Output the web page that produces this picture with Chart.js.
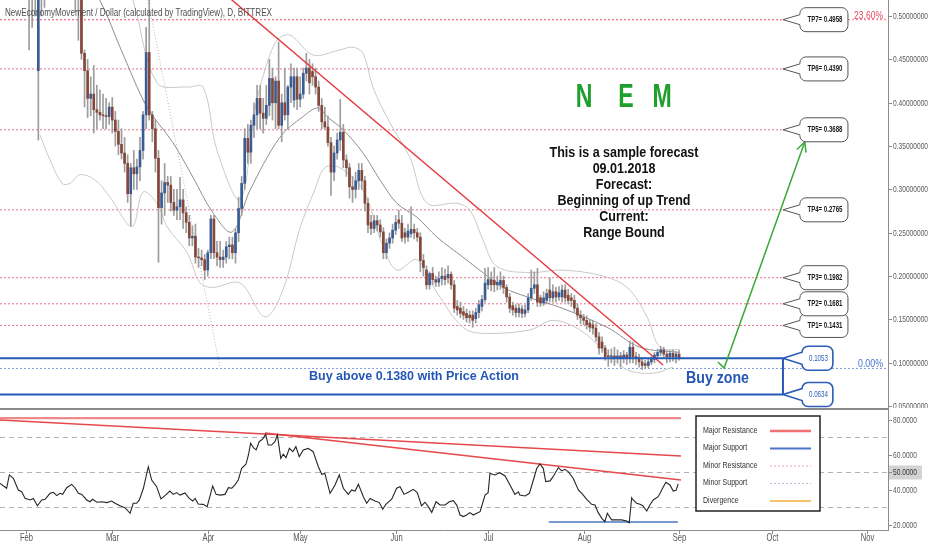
<!DOCTYPE html>
<html><head><meta charset="utf-8">
<script src="https://cdn.jsdelivr.net/npm/chart.js@4.4.1/dist/chart.umd.min.js"></script>
<style>
html,body{margin:0;padding:0;background:#fff;}
#wrap{position:relative;width:932px;height:550px;overflow:hidden;background:#fff;}
#priceChart{position:absolute;left:0;top:0;}
#rsiChart{position:absolute;left:0;top:408px;}
</style></head><body>
<div id="wrap">
<canvas id="priceChart" width="932" height="408"></canvas>
<canvas id="rsiChart" width="932" height="142"></canvas>
</div>
<script>
// ---------- DATA ----------
const title = 'NewEconomyMovement / Dollar (calculated by TradingView), D, BITTREX';
const startDay = 22; // day-of-year index of first candle (Jan 1 = 0) -> Jan 23, 2018
const openP = [
.62,.60,.63,.60,.58,.60,.57,.58,.56,.57,
.55,.53,.535,.437,.55,.60,.62,.65,.63,.66,
.64,.61,.63,.60,.61,.545,.53,.535,.457,.437,
.405,.41,.392,.389,.386,.385,.384,.395,.38,.367,
.352,.342,.33,.295,.325,.318,.326,.345,.386,.458,
.386,.37,.336,.279,.296,.308,.305,.285,.276,.28,
.288,.273,.262,.244,.246,.222,.221,.219,.207,.227,
.266,.227,.222,.219,.222,.234,.236,.227,.25,.278,
.307,.359,.343,.374,.386,.405,.388,.382,.397,.428,
.40,.425,.374,.40,.386,.418,.403,.43,.404,.41,
.434,.44,.436,.43,.418,.397,.378,.372,.354,.32,
.342,.357,.366,.334,.325,.303,.30,.31,.322,.31,
.284,.262,.255,.264,.259,.251,.227,.238,.244,.253,
.265,.261,.25,.245,.249,.254,.25,.245,.218,.207,
.19,.203,.196,.193,.197,.20,.198,.202,.19,.165,
.163,.159,.157,.155,.155,.151,.158,.165,.173,.19,
.196,.195,.19,.19,.195,.187,.176,.166,.163,.158,
.162,.157,.161,.175,.186,.19,.175,.169,.172,.184,
.175,.182,.176,.176,.184,.178,.175,.172,.163,.155,
.152,.149,.146,.144,.14,.13,.124,.117,.108,.107,
.108,.106,.108,.106,.109,.105,.118,.107,.106,.101,
.099,.097,.101,.104,.108,.112,.115,.11,.107,.111,
.107,.11];
const highP = [
.66,.64,.66,.63,.62,.63,.60,.61,.59,.60,
.58,.56,.55,.57,.62,.64,.68,.69,.70,.69,
.66,.65,.64,.63,.62,.56,.55,.55,.461,.45,
.43,.443,.42,.415,.41,.405,.40,.406,.39,.38,
.37,.36,.34,.33,.345,.335,.36,.39,.487,.54,
.39,.38,.345,.31,.33,.315,.315,.30,.30,.314,
.30,.28,.27,.258,.26,.232,.23,.225,.23,.27,
.27,.24,.24,.23,.24,.245,.245,.255,.291,.315,
.37,.375,.38,.40,.42,.42,.405,.42,.45,.44,
.43,.47,.41,.44,.42,.445,.44,.44,.43,.44,
.457,.45,.445,.44,.425,.405,.395,.385,.36,.35,
.365,.404,.375,.34,.33,.315,.32,.33,.33,.315,
.29,.27,.27,.27,.265,.256,.243,.25,.26,.27,
.276,.27,.255,.26,.28,.26,.255,.25,.225,.212,
.205,.21,.20,.205,.21,.208,.212,.205,.195,.172,
.17,.165,.162,.16,.16,.163,.172,.178,.209,.21,
.205,.21,.20,.205,.20,.19,.18,.17,.167,.168,
.166,.167,.18,.207,.205,.209,.178,.182,.185,.198,
.19,.187,.188,.19,.19,.185,.18,.178,.168,.16,
.156,.154,.15,.148,.145,.135,.13,.12,.115,.116,
.118,.115,.112,.114,.112,.125,.124,.112,.11,.106,
.103,.105,.107,.112,.116,.119,.118,.114,.114,.115,
.113,.114];
const lowP = [
.58,.57,.59,.56,.55,.56,.54,.545,.535,.53,
.461,.487,.50,.357,.50,.51,.60,.61,.61,.62,
.59,.58,.57,.57,.53,.505,.472,.45,.395,.383,
.385,.365,.37,.38,.37,.37,.375,.365,.35,.34,
.335,.32,.285,.258,.30,.30,.31,.335,.37,.38,
.355,.32,.216,.26,.27,.285,.275,.27,.265,.265,
.255,.25,.235,.235,.215,.21,.212,.196,.20,.22,
.22,.212,.21,.21,.215,.22,.22,.215,.24,.27,
.30,.33,.33,.36,.37,.37,.365,.375,.385,.38,
.37,.37,.355,.38,.37,.40,.395,.392,.395,.405,
.425,.41,.42,.41,.39,.37,.37,.35,.293,.31,
.335,.345,.325,.315,.29,.285,.29,.30,.30,.275,
.25,.248,.25,.252,.245,.22,.22,.232,.238,.248,
.255,.24,.238,.24,.245,.243,.24,.205,.20,.185,
.185,.19,.188,.188,.19,.19,.192,.185,.158,.155,
.152,.15,.147,.146,.141,.146,.152,.16,.17,.185,
.183,.182,.184,.185,.18,.17,.158,.155,.153,.153,
.152,.153,.158,.172,.18,.165,.165,.166,.168,.17,
.17,.17,.172,.17,.17,.168,.165,.158,.15,.145,
.144,.139,.136,.133,.125,.11,.112,.103,.096,.10,
.097,.10,.095,.10,.098,.10,.10,.098,.095,.092,
.093,.094,.098,.10,.105,.108,.107,.10,.101,.102,
.10,.103];
const closeP = [
.60,.63,.60,.58,.60,.57,.58,.56,.57,.55,
.53,.535,.53,.55,.60,.62,.65,.63,.66,.64,
.61,.63,.60,.61,.545,.53,.535,.457,.437,.405,
.41,.392,.389,.386,.385,.384,.395,.38,.367,.352,
.342,.33,.295,.325,.318,.326,.345,.386,.458,.386,
.37,.336,.279,.296,.308,.305,.285,.276,.28,.288,
.273,.262,.244,.246,.222,.221,.219,.207,.227,.266,
.227,.222,.219,.222,.234,.236,.227,.25,.278,.307,
.359,.343,.374,.386,.405,.388,.382,.397,.428,.40,
.425,.374,.40,.386,.418,.43,.43,.404,.41,.434,
.44,.423,.43,.418,.397,.378,.372,.354,.32,.342,
.357,.366,.334,.325,.303,.30,.31,.322,.31,.284,
.259,.255,.264,.259,.251,.227,.238,.244,.253,.262,
.261,.244,.245,.252,.254,.25,.245,.218,.21,.19,
.203,.196,.193,.197,.20,.196,.202,.19,.163,.161,
.157,.155,.152,.152,.149,.158,.167,.173,.192,.196,
.19,.19,.193,.195,.187,.176,.163,.161,.158,.163,
.157,.161,.175,.186,.19,.17,.169,.175,.18,.175,
.182,.176,.181,.184,.175,.172,.172,.163,.155,.152,
.149,.144,.141,.14,.13,.117,.117,.107,.107,.108,
.106,.108,.106,.109,.105,.118,.107,.106,.101,.097,
.097,.101,.104,.109,.112,.115,.11,.107,.111,.107,
.11,.106];

// Bollinger-type overlay lines (day index, price)
const bbMidDays = [42,48.5,55,62,70.3,78.7,85.2,91.7,97.9,103.7,113.4,120.9,125.8,128.7,133.9,140.4,145.9,151.4,157.9,164.4,172.8,179.3,185.8,194.6,204.3,219.6,230.3,243];
const bbMid = [.59,.55,.518,.46,.395,.354,.314,.273,.251,.299,.360,.384,.394,.384,.369,.342,.311,.284,.268,.245,.222,.204,.187,.175,.164,.141,.118,.112];
const bbUpDays = [55,61.5,65.7,73.5,83.3,88.5,93,100.5,105.3,108.6,112.5,116.7,124.2,132.9,137.1,140.4,143.6,149.1,155.6,161.2,170.9,175.1,179.3,183.9,194.6,204.3,217.3,226.1,232.6,236.8,243.3];
const bbUp = [.62,.553,.5185,.423,.418,.418,.345,.288,.392,.438,.472,.478,.455,.461,.464,.457,.418,.377,.337,.284,.284,.276,.242,.211,.204,.207,.201,.187,.153,.118,.115];
const bbLoDays = [35.5,38.8,42.7,45.3,48.5,53.4,58.3,65.4,69,73.5,76.8,83.3,87.5,91.7,100.5,108.6,114.4,119.9,124.8,128,132.9,140.4,146.9,151.4,157.9,164.4,172.8,179.3,194.6,202,210.8,219.6,226.1,234.5,241];
const bbLo = [.363,.334,.307,.307,.317,.311,.291,.257,.297,.284,.257,.227,.192,.187,.192,.153,.184,.255,.30,.325,.325,.299,.234,.207,.219,.181,.141,.134,.138,.149,.138,.111,.092,.088,.095];
const dottedDays = [70.6, 94];
const dottedVals = [0.5185, 0.094];

// drawing annotations in data units
const tpNames = ['TP1','TP2','TP3','TP4','TP5','TP6','TP7'];
const tpValues = [0.1431,0.1681,0.1982,0.2765,0.3688,0.4390,0.4958];
const buyZone = [0.1053, 0.0634];
const fibLevels = [0.4958, 0.0935];
const fibLabels = ['23.60%', '0.00%'];
const trendDays = [87.5, 237.8];
const trendVals = [0.5496, 0.0975];
const arrowDays = [255.6, 257.6, 283.8];
const arrowVals = [0.101, 0.094, 0.355];
const forecastLines = ['This is a sample forecast','09.01.2018','Forecast:','Beginning of up Trend','Current:','Range Bound'];
const nemLetters = ['N','E','M'];
const buyText = 'Buy above 0.1380 with Price Action';
const buyZoneText = 'Buy zone';
const priceTicks = [0.05,0.10,0.15,0.20,0.25,0.30,0.35,0.40,0.45,0.50];

// RSI pane
const rsiDays = [22.6,24.7,25.6,26.9,28.5,29.6,30.7,32.3,33.4,34.7,36.1,37.2,38.8,39.9,41.0,42.0,42.9,44.2,45.8,46.9,48.0,49.1,50.7,51.8,52.6,54.0,55.6,57.2,58.8,59.9,61.5,63.1,64.8,65.8,66.9,67.8,69.1,70.7,71.8,73.4,74.8,76.1,77.7,78.8,79.9,81.0,82.6,84.0,85.1,85.9,86.9,88.5,89.8,91.6,92.7,94.0,95.6,96.7,97.8,98.8,99.9,101.0,102.4,103.2,103.9,104.8,105.7,106.7,107.8,108.8,109.6,110.7,111.8,112.6,113.7,114.5,115.4,116.5,117.6,118.6,119.7,121.0,122.6,124.2,125.9,127.0,128.0,129.7,131.3,132.7,134.0,135.6,136.7,137.8,138.9,140.5,141.6,142.7,144.3,145.7,146.8,147.8,149.7,151.3,152.4,
153.7,155.1,156.7,158.0,159.4,160.5,161.6,162.7,164.1,165.4,167.0,168.4,169.7,170.8,171.9,173.0,174.0,175.1,176.2,177.3,178.4,180.0,181.0,181.6,183.2,184.8,186.5,188.1,189.7,190.8,191.3,193.0,194.4,195.7,196.8,197.8,198.9,199.7,201.1,202.1,203.8,204.9,205.9,207.0,208.6,210.3,211.7,213.0,214.6,215.7,216.7,217.9,218.9,219.7,221.1,222.7,224.3,226.0,226.8,227.6,228.1,229.2,230.3,231.2,232.5,233.5,234.6,236.2,236.8,237.9,238.7,240.0,241.1,242.0,242.7];
const rsiVals = [43.8,41.0,48.6,46.7,40.0,39.0,35.2,34.3,35.2,31.0,34.3,34.7,38.1,38.7,36.8,38.1,37.5,41.3,43.2,41.3,38.1,37.5,34.3,33.3,34.7,33.0,33.3,32.8,33.7,32.4,31.0,29.9,26.7,32.4,32.4,34.3,41.0,53.3,45.7,41.9,34.9,36.8,39.4,37.5,38.5,37.1,38.3,35.2,33.7,35.2,32.0,31.8,30.5,42.3,37.5,37.1,37.5,41.3,41.0,42.9,45.7,52.4,54.7,60.0,66.7,64.2,62.9,67.6,69.1,71.8,65.7,65.7,67.6,71.4,58.1,60.4,58.5,63.8,61.9,64.8,59.0,62.9,63.8,61.9,53.3,49.0,49.5,38.1,42.9,48.6,41.0,37.5,40.0,39.4,43.2,36.2,32.4,35.2,33.7,32.8,29.0,31.8,34.7,41.0,41.9,
37.5,38.7,40.4,38.5,30.9,33.0,30.5,27.2,33.3,31.4,31.4,33.3,33.9,31.4,25.7,24.8,25.7,27.1,25.7,26.7,27.6,37.1,38.5,49.5,48.6,49.9,48.0,42.9,37.5,39.0,37.1,36.6,38.1,45.7,52.4,54.9,52.4,44.8,45.2,47.6,52.8,50.9,51.8,50.5,46.7,40.0,37.5,34.7,31.8,31.4,27.2,23.8,21.9,26.7,22.9,22.9,22.9,22.3,21.3,35.6,34.3,32.4,31.8,31.0,28.0,31.4,34.3,36.2,38.1,41.9,44.4,42.9,39.4,39.8,43.4];
const rsiTicks = [20,40,50,60,80];
const rsiGuides = [70,50,30];
const rsiResH = {days:[22.56,243.6], vals:[81.1,81.1]};
const rsiResA = {days:[22.56,243.6], vals:[80.0,59.4]};
const rsiResB = {days:[108.6,243.6], vals:[72.6,45.7]};
const rsiSup = {days:[200.7,242.6], vals:[21.7,21.7]};
const monthTicks = [31,59,90,120,151,181,212,243,273,304];
const monthLabels = ['Feb','Mar','Apr','May','Jun','Jul','Aug','Sep','Oct','Nov'];
const legendLabels = ['Major Resistance','Major Support','Minor Resistance','Minor Support','Divergence'];

// ---------- SETTINGS ----------
const X_MIN = 22.56, X_MAX = 310.8;
const LINE_END = 276.7, BOX_L = 282.2, BOX_R = 297.8, BBOX_L = 282.9, BBOX_R = 292.9;
const F = '"Liberation Sans", Arial, sans-serif';
const UP = '#3b5b93', DOWN = '#84473a', WICK = '#9d9d9d';

const days = openP.map((_, i) => startDay + i);
const pts = (ds, vs) => ds.map((d, i) => ({x: d, y: vs[i]}));
const hseg = (d0, d1, v) => [{x: d0, y: v}, {x: d1, y: v}];
function lineDS(data, color, width, dash, order, tension) {
  return {type: 'line', data, borderColor: color, borderWidth: width, borderDash: dash || [],
    pointRadius: 0, pointHoverRadius: 0, fill: false, tension: tension || 0, order};
}

function txt(ctx, s, x, y, size, weight, color, align, w) {
  ctx.save();
  ctx.font = `${weight} ${size}px ${F}`;
  ctx.fillStyle = color; ctx.textBaseline = 'middle'; ctx.textAlign = 'left';
  const nat = ctx.measureText(s).width;
  const ww = w || nat, sx = ww / nat;
  const x0 = align === 'center' ? x - ww / 2 : align === 'right' ? x - ww : x;
  ctx.translate(x0, y); ctx.scale(sx, 1); ctx.fillText(s, 0, 0);
  ctx.restore();
}
function natW(ctx, s, size, weight) {
  ctx.save(); ctx.font = `${weight} ${size}px ${F}`; const w = ctx.measureText(s).width; ctx.restore(); return w;
}
function callout(ctx, tx, cy, x0, x1, h, half, stroke, lw) {
  const r = 6, y0 = cy - h / 2, y1 = cy + h / 2;
  ctx.beginPath();
  ctx.moveTo(x0 + r, y0);
  ctx.lineTo(x1 - r, y0); ctx.arcTo(x1, y0, x1, y0 + r, r);
  ctx.lineTo(x1, y1 - r); ctx.arcTo(x1, y1, x1 - r, y1, r);
  ctx.lineTo(x0 + r, y1); ctx.arcTo(x0, y1, x0, y1 - r, r);
  ctx.lineTo(x0, cy + half); ctx.lineTo(tx, cy); ctx.lineTo(x0, cy - half);
  ctx.lineTo(x0, y0 + r); ctx.arcTo(x0, y0, x0 + r, y0, r);
  ctx.closePath();
  ctx.fillStyle = '#fff'; ctx.fill();
  ctx.strokeStyle = stroke; ctx.lineWidth = lw; ctx.stroke();
}

const yFit = s => { s.width = 44; s.paddingTop = 0; s.paddingBottom = 0; };

// ---------- PRICE CHART ----------
const priceDecor = {
  id: 'priceDecor',
  afterDatasetsDraw(chart) {
    const {ctx, chartArea: a, scales: {x, y}} = chart;
    ctx.save();
    // arrow head
    const p1x = x.getPixelForValue(arrowDays[1]), p1y = y.getPixelForValue(arrowVals[1]);
    const p2x = x.getPixelForValue(arrowDays[2]), p2y = y.getPixelForValue(arrowVals[2]);
    const ang = Math.atan2(p2y - p1y, p2x - p1x);
    ctx.strokeStyle = '#3aa93a'; ctx.lineWidth = 1.5;
    ctx.beginPath();
    ctx.moveTo(p2x - 11 * Math.cos(ang - 0.45), p2y - 11 * Math.sin(ang - 0.45));
    ctx.lineTo(p2x, p2y);
    ctx.lineTo(p2x - 11 * Math.cos(ang + 0.45), p2y - 11 * Math.sin(ang + 0.45));
    ctx.stroke();
    // TP callouts
    const tipX = x.getPixelForValue(LINE_END);
    const bl = x.getPixelForValue(BOX_L), br = x.getPixelForValue(BOX_R);
    tpValues.forEach((v, i) => {
      const py = y.getPixelForValue(v);
      callout(ctx, tipX, py, bl, br, 24, 5, '#555', 1);
      txt(ctx, tpNames[i] + '= ' + v.toFixed(4), (bl + br) / 2 + 1, py, 9, 'bold', '#1a1a1a', 'center', 35);
    });
    // blue callouts
    const bbl = x.getPixelForValue(BBOX_L), bbr = x.getPixelForValue(BBOX_R);
    buyZone.forEach(v => {
      const py = y.getPixelForValue(v);
      callout(ctx, tipX, py, bbl, bbr, 24, 6, '#2a5cb8', 1.6);
      txt(ctx, v.toFixed(4), (bbl + bbr) / 2 + 1, py, 8.5, 'normal', '#2a5cb8', 'center', 19);
    });
    // fib labels
    txt(ctx, fibLabels[0], a.right - 5, y.getPixelForValue(fibLevels[0]) - 4, 11, 'normal', '#e4475b', 'right', 29);
    txt(ctx, fibLabels[1], a.right - 5, y.getPixelForValue(fibLevels[1]) - 4, 11, 'normal', '#4a74d0', 'right', 25);
    // texts
    txt(ctx, title, a.left + 5, 13, 10.5, 'normal', '#4f4f4f', 'left', 267);
    const nx = [584, 626, 662];
    nemLetters.forEach((L, i) => txt(ctx, L, a.left + nx[i], 98, 33, 'bold', '#1f9f2b', 'center', natW(ctx, L, 33, 'bold') * 0.7));
    const fsx = 149 / natW(ctx, forecastLines[0], 15, 'bold');
    forecastLines.forEach((s, i) => txt(ctx, s, a.left + 624, 153 + i * 16, 15, 'bold', '#111', 'center', natW(ctx, s, 15, 'bold') * fsx));
    txt(ctx, buyText, a.left + 309, 377, 12.5, 'bold', '#2457b5', 'left', 210);
    txt(ctx, buyZoneText, a.left + 686, 379, 16, 'bold', '#2457b5', 'left', 63);
    // right axis
    ctx.strokeStyle = '#8c8c8c'; ctx.lineWidth = 1;
    ctx.beginPath(); ctx.moveTo(a.right + 0.5, 0); ctx.lineTo(a.right + 0.5, chart.height); ctx.stroke();
    priceTicks.forEach(v => {
      const py = Math.round(y.getPixelForValue(v)) + 0.5;
      ctx.beginPath(); ctx.moveTo(a.right, py); ctx.lineTo(a.right + 4, py); ctx.stroke();
      txt(ctx, v.toFixed(8), a.right + 5, py, 9.5, 'normal', '#5a5a5a', 'left', 35);
    });
    ctx.restore();
  }
};

const priceDatasets = [];
tpValues.forEach(v => priceDatasets.push(lineDS(hseg(X_MIN, LINE_END, v), '#ec7489', 1, [2, 2], 30)));
priceDatasets.push(lineDS(hseg(X_MIN, X_MAX, fibLevels[0]), '#ec7489', 1, [2, 2], 30));
priceDatasets.push(lineDS(hseg(X_MIN, X_MAX, fibLevels[1]), '#7f9be0', 1, [2, 2], 30));
priceDatasets.push(lineDS(pts(bbUpDays, bbUp), '#c9c9c9', 1, [], 25, 0.35));
priceDatasets.push(lineDS(pts(bbLoDays, bbLo), '#c9c9c9', 1, [], 25, 0.35));
priceDatasets.push(lineDS(pts(bbMidDays, bbMid), '#8e8e8e', 1, [], 24, 0.35));
priceDatasets.push(lineDS(pts(dottedDays, dottedVals), '#b5b5b5', 1, [1, 2], 25));
priceDatasets.push({type: 'bar', data: days.map((d, i) => ({x: d, y: [lowP[i], highP[i]]})),
  backgroundColor: WICK, barThickness: 1, grouped: false, order: 12});
priceDatasets.push({type: 'bar', data: days.map((d, i) => ({x: d, y: [Math.min(openP[i], closeP[i]), Math.max(openP[i], closeP[i])]})),
  backgroundColor: days.map((d, i) => closeP[i] >= openP[i] ? UP : DOWN), barThickness: 2, minBarLength: 1, grouped: false, order: 11});
priceDatasets.push(lineDS(pts(trendDays, trendVals), '#e3383b', 1.4, [], 5));
buyZone.forEach(v => priceDatasets.push(lineDS(hseg(X_MIN, LINE_END, v), '#2458b5', 2, [], 4)));
priceDatasets.push(lineDS([{x: LINE_END, y: buyZone[0]}, {x: LINE_END, y: buyZone[1]}], '#2458b5', 2, [], 4));
priceDatasets.push(lineDS(pts(arrowDays, arrowVals), '#3aa93a', 1.5, [], 3));

new Chart(document.getElementById('priceChart'), {
  type: 'bar',
  data: {datasets: priceDatasets},
  options: {
    responsive: false, animation: false, events: [],
    layout: {padding: 0},
    plugins: {legend: {display: false}, tooltip: {enabled: false}},
    scales: {
      x: {type: 'linear', min: X_MIN, max: X_MAX, offset: false, display: false},
      y: {type: 'linear', position: 'right', min: 0.0479, max: 0.5185, beginAtZero: false,
          ticks: {display: false}, grid: {display: false}, border: {display: false}, afterFit: yFit}
    }
  },
  plugins: [priceDecor]
});

// ---------- RSI CHART ----------
const rsiDecor = {
  id: 'rsiDecor',
  afterDatasetsDraw(chart) {
    const {ctx, chartArea: a, scales: {x, y}} = chart;
    ctx.save();
    // pane separator
    ctx.strokeStyle = '#8a8a8a'; ctx.lineWidth = 2;
    ctx.beginPath(); ctx.moveTo(0, 1); ctx.lineTo(a.right, 1); ctx.stroke();
    // legend box
    const lx0 = a.left + 696, lx1 = a.left + 820, ly0 = 8, ly1 = 103;
    ctx.fillStyle = '#fff'; ctx.fillRect(lx0, ly0, lx1 - lx0, ly1 - ly0);
    ctx.strokeStyle = '#222'; ctx.lineWidth = 1.5; ctx.strokeRect(lx0, ly0, lx1 - lx0, ly1 - ly0);
    const styles = [['#ef7070', 2.5, []], ['#4b74c6', 2, []], ['#f0a0aa', 1, [2, 2]], ['#b8c2d8', 1, [2, 2]], ['#f5c26b', 2, []]];
    legendLabels.forEach((s, i) => {
      const ly = 22 + i * 17.5;
      txt(ctx, s, lx0 + 7, ly, 9.5, 'normal', '#333', 'left', natW(ctx, s, 9.5, 'normal') * 0.74);
      ctx.strokeStyle = styles[i][0]; ctx.lineWidth = styles[i][1]; ctx.setLineDash(styles[i][2]);
      ctx.beginPath(); ctx.moveTo(lx0 + 74, ly + 1); ctx.lineTo(lx0 + 115, ly + 1); ctx.stroke();
      ctx.setLineDash([]);
    });
    // axes
    ctx.strokeStyle = '#8c8c8c'; ctx.lineWidth = 1;
    ctx.beginPath(); ctx.moveTo(a.right + 0.5, 0); ctx.lineTo(a.right + 0.5, a.bottom + 1); ctx.stroke();
    ctx.beginPath(); ctx.moveTo(0, a.bottom + 0.5); ctx.lineTo(a.right + 1, a.bottom + 0.5); ctx.stroke();
    monthTicks.forEach((d, i) => {
      const px = Math.round(x.getPixelForValue(d)) + 0.5;
      ctx.beginPath(); ctx.moveTo(px, a.bottom); ctx.lineTo(px, a.bottom + 4); ctx.stroke();
      txt(ctx, monthLabels[i], px, a.bottom + 8, 10.5, 'normal', '#555', 'center', natW(ctx, monthLabels[i], 10.5, 'normal') * 0.72);
    });
    rsiTicks.forEach(v => {
      const py = Math.round(y.getPixelForValue(v)) + 0.5;
      if (v === 50) { ctx.fillStyle = '#d3d3d3'; ctx.fillRect(a.right + 1, py - 7, 33, 14); }
      ctx.beginPath(); ctx.moveTo(a.right, py); ctx.lineTo(a.right + 4, py); ctx.stroke();
      txt(ctx, v.toFixed(4), a.right + 5, py, 9.5, 'normal', v === 50 ? '#333' : '#5a5a5a', 'left', 24);
    });
    ctx.restore();
  }
};

const rsiDatasets = [];
rsiGuides.forEach(v => rsiDatasets.push(lineDS(hseg(X_MIN, X_MAX, v), '#b3b3b3', 1, [5, 4], 30)));
rsiDatasets.push(lineDS(pts(rsiResH.days, rsiResH.vals), '#ee8a8a', 2.2, [], 10));
rsiDatasets.push(lineDS(pts(rsiResA.days, rsiResA.vals), '#e6484b', 1.4, [], 9));
rsiDatasets.push(lineDS(pts(rsiResB.days, rsiResB.vals), '#e6484b', 1.4, [], 9));
rsiDatasets.push(lineDS(pts(rsiSup.days, rsiSup.vals), '#4a78c0', 1.4, [], 8));
rsiDatasets.push(lineDS(pts(rsiDays, rsiVals), '#262626', 1.1, [], 1));

new Chart(document.getElementById('rsiChart'), {
  type: 'line',
  data: {datasets: rsiDatasets},
  options: {
    responsive: false, animation: false, events: [],
    layout: {padding: 0},
    plugins: {legend: {display: false}, tooltip: {enabled: false}},
    scales: {
      x: {type: 'linear', min: X_MIN, max: X_MAX, offset: false,
          ticks: {display: false}, grid: {display: false}, border: {display: false},
          afterFit: s => { s.height = 20; s.paddingLeft = 0; s.paddingRight = 0; }},
      y: {type: 'linear', position: 'right', min: 17.14, max: 86.86,
          ticks: {display: false}, grid: {display: false}, border: {display: false}, afterFit: yFit}
    }
  },
  plugins: [rsiDecor]
});
</script>
</body></html>
